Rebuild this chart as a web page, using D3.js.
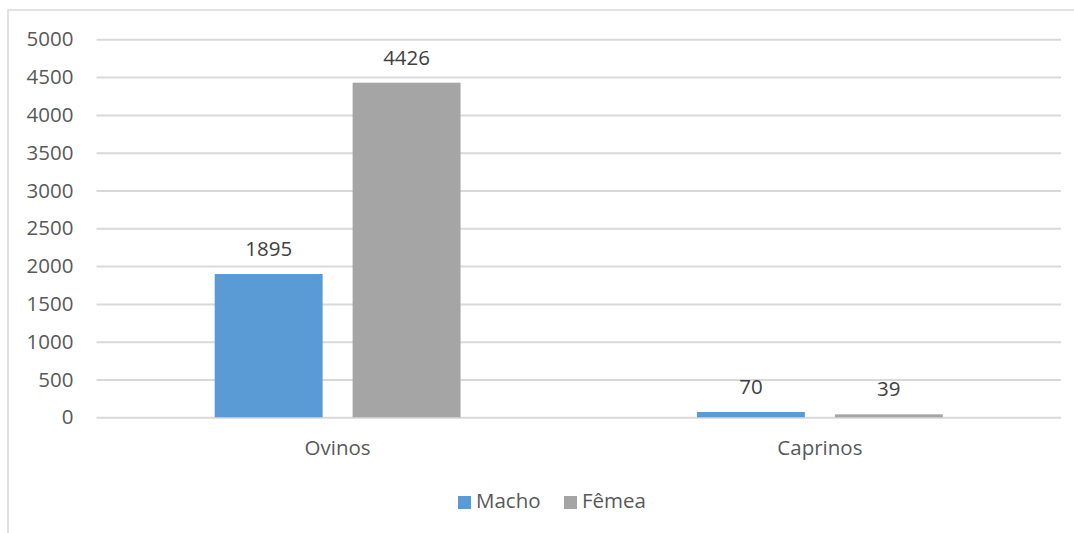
<!DOCTYPE html>
<html>
<head>
<meta charset="utf-8">
<script src="https://cdn.jsdelivr.net/npm/d3@7"></script>
<style>
  html, body { margin: 0; padding: 0; background: #fff; }
  svg { display: block; font-family: "Open Sans", sans-serif; }
</style>
</head>
<body>
<svg id="chart" width="1074" height="533"></svg>
<script>
const categories = ["Ovinos", "Caprinos"];
const seriesNames = ["Macho", "Fêmea"];
const macho = [1895, 70];
const femea = [4426, 39];
const yTicks = [0, 500, 1000, 1500, 2000, 2500, 3000, 3500, 4000, 4500, 5000];
const colors = ["#5B9BD5", "#A5A5A5"];

const seriesValues = [macho, femea];
const data = categories.map((c, i) => ({
  category: c,
  values: seriesNames.map((s, j) => ({ series: s, value: seriesValues[j][i], idx: j }))
}));

const svg = d3.select("#chart");
const plot = { left: 96.5, right: 1061, top: 39.3, bottom: 417.3 };

// chart border
svg.append("rect")
  .attr("x", 8).attr("y", 10)
  .attr("width", 1080).attr("height", 540)
  .attr("fill", "none").attr("stroke", "#d9d9d9").attr("stroke-width", 1.5);

const y = d3.scaleLinear().domain([0, 5000]).range([plot.bottom, plot.top]);
const x0 = d3.scaleBand().domain(categories).range([plot.left, plot.right]).padding(0);
const x1 = d3.scaleBand().domain(seriesNames).range([0, x0.bandwidth()])
  .paddingInner(0.2174).paddingOuter(0.857);

// gridlines + y labels
const yAxis = d3.axisLeft(y).tickValues(yTicks).tickSize(-(plot.right - plot.left)).tickPadding(23).tickFormat(d3.format("d"));
const gy = svg.append("g").attr("transform", `translate(${plot.left},0)`).call(yAxis);
gy.select(".domain").remove();
gy.selectAll(".tick line").attr("stroke", "#d9d9d9").attr("stroke-width", 2);
gy.selectAll(".tick text").attr("fill", "#595959").style("font-size", "20.5px")
  .style("font-family", "'Open Sans', sans-serif");

// bars
const groups = svg.append("g").selectAll("g").data(data).join("g")
  .attr("transform", d => `translate(${x0(d.category)},0)`);

groups.selectAll("rect").data(d => d.values).join("rect")
  .attr("x", d => x1(d.series))
  .attr("y", d => y(d.value))
  .attr("width", x1.bandwidth())
  .attr("height", d => y(0) - y(d.value))
  .attr("fill", d => colors[d.idx]);

groups.selectAll("text").data(d => d.values).join("text")
  .attr("x", d => x1(d.series) + x1.bandwidth() / 2)
  .attr("y", d => y(d.value) - 18)
  .attr("text-anchor", "middle")
  .attr("fill", "#404040")
  .style("font-size", "20.5px")
  .text(d => d.value);

// x axis labels
const xAxis = d3.axisBottom(x0).tickSize(0).tickPadding(23);
const gx = svg.append("g").attr("transform", `translate(0,${plot.bottom})`).call(xAxis);
gx.select(".domain").remove();
gx.selectAll(".tick text").attr("fill", "#595959").style("font-size", "20.5px")
  .style("font-family", "'Open Sans', sans-serif");

// legend
const legendX = [458, 564];
const legend = svg.append("g");
seriesNames.forEach((s, i) => {
  const g = legend.append("g").attr("transform", `translate(${legendX[i]},0)`);
  g.append("rect").attr("x", 0).attr("y", 496).attr("width", 13).attr("height", 13).attr("fill", colors[i]);
  g.append("text").attr("x", 18).attr("y", 508).attr("fill", "#595959")
    .style("font-size", "20.5px").text(s);
});
</script>
</body>
</html>
